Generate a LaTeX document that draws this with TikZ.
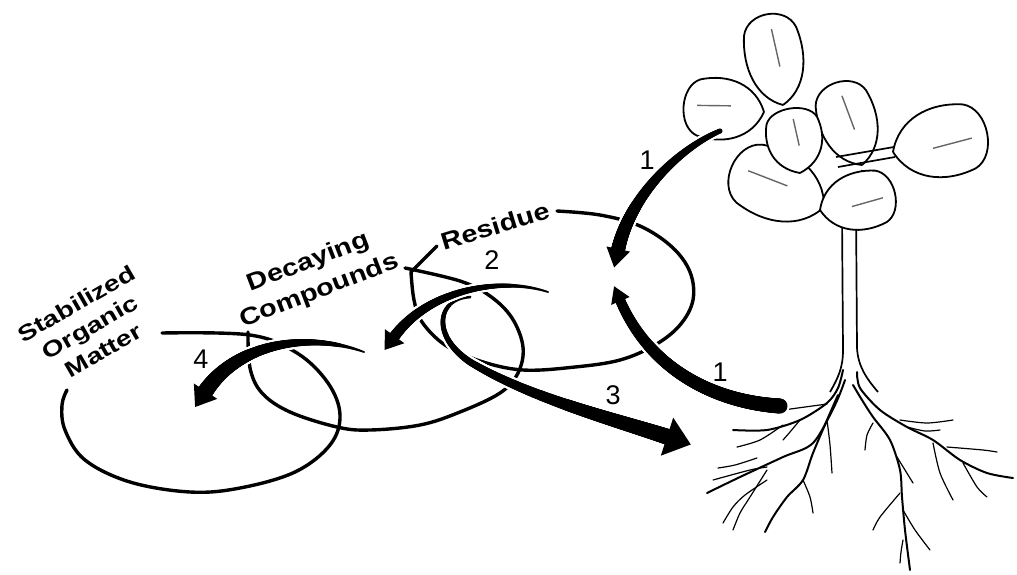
\documentclass[tikz,border=0pt]{standalone}
\usepackage{fontspec}
\usepackage{graphicx}
\setmainfont{Liberation Sans}
\usetikzlibrary{decorations.markings}
\tikzset{
  tapbody/.style n args={4}{postaction={decorate, decoration={markings,
      mark=between positions 0 and 1 step 0.7pt with {%
        \pgfmathsetmacro\tr{#1+(#2-#1)*\pgfkeysvalueof{/pgf/decoration/mark info/distance from start}/\pgfdecoratedpathlength+#3}%
        \fill[#4] (0pt,0pt) circle (\tr pt);}}}},
  taphead/.style n args={4}{postaction={decorate, decoration={markings,
      mark=at position 0.9999 with {%
        \pgfmathsetmacro\hwx{#1+#3}\pgfmathsetmacro\hlx{#2+1.8*#3}\pgfmathsetmacro\hbx{-1-#3}%
        \fill[#4] (\hbx pt,\hwx pt) -- (\hlx pt,0pt) -- (\hbx pt,-\hwx pt) -- cycle;}}}},
  lbl/.style={font=\bfseries\fontsize{24}{25}\selectfont, inner sep=0pt, align=center},
  num/.style={font=\fontsize{27}{30}\selectfont, inner sep=0pt},
  loopline/.style={line width=3.4pt, line cap=round, line join=round},
  leafline/.style={line width=1.8pt, fill=white, line join=round},
  ribline/.style={line width=1.4pt, black!60},
  rootmain/.style={line width=2pt, line cap=round},
  rootthin/.style={line width=1.2pt, line cap=round},
  stemline/.style={line width=1.7pt},
}
\newcommand\wide[1]{\scalebox{1.2}[1]{#1}}
\newcommand\wider[1]{\scalebox{1.28}[1]{#1}}
\newcommand\tarrow[5]{%
  \path[tapbody={#1}{#2}{2.2}{white},taphead={#3}{#4}{2.2}{white}] #5;
  \path[tapbody={#1}{#2}{0}{black},taphead={#3}{#4}{0}{black}] #5;}
\newcommand\leafshape[5]{%
  \begin{scope}[shift={(#1,#2)}, rotate=#4]
    \draw[leafline] (0,0) .. controls ({0.12*#3},{0.42*#5}) and ({0.45*#3},{0.56*#5}) .. ({0.78*#3},{0.44*#5})
      .. controls ({1.02*#3},{0.32*#5}) and ({1.02*#3},{-0.32*#5}) .. ({0.78*#3},{-0.44*#5})
      .. controls ({0.45*#3},{-0.56*#5}) and ({0.12*#3},{-0.42*#5}) .. (0,0);
    \draw[ribline] ({0.4*#3},{0.06*#5}) -- ({0.8*#3},{0.03*#5});
  \end{scope}}
\begin{document}
\begin{tikzpicture}[x=1pt,y=-1pt]
\useasboundingbox (0,0) rectangle (1017,574);
\fill[white] (0,0) rectangle (1017,574);

% ---- labels ----
\node[lbl, rotate=17] (res) at (495,226) {\wide{Residue}};
\node[lbl, rotate=21, font=\bfseries\fontsize{24}{31}\selectfont] (dec) at (314,277) {\wide{Decaying}\\\wide{Compounds}};
\node[lbl, rotate=30, font=\bfseries\fontsize{22}{27}\selectfont] (stab) at (90,327) {\wider{Stabilized}\\\wider{Organic}\\\wider{Matter}};

\node[num] (n1a) at (647,160) {1};
\node[num] (n1b) at (720,372) {1};
\node[num] (n2) at (492,260) {2};
\node[num] (n3) at (613,395) {3};
\node[num] (n4) at (201,359) {4};

% ---- loops ----
\draw[loopline] plot[smooth, tension=0.6] coordinates {(557,211) (600,215) (640,226) (672,247) (690,272) (693,300) (680,325) (655,345) (620,360) (575,367) (523,370) (480,361) (445,345) (422,322) (414,300) (411,272)} -- (437,246);
\draw[loopline] plot[smooth, tension=0.6] coordinates {(405,268) (460,281) (490,296) (512,318) (523,347) (518,373) (500,393) (460,412) (420,425) (370,430) (337,427) (290,412) (262,393) (250,368) (248,332)};
\draw[loopline] plot[smooth, tension=0.6] coordinates {(162,333) (250,335) (297,353) (328,383) (340,415) (330,445) (295,472) (240,488) (190,492) (130,482) (85,460) (65,430) (62,405) (67,390)};

% ---- plant ----
\draw[stemline] (842,215) -- (843,350) .. controls (843,368) and (838,378) .. (830,392);
\draw[stemline] (856,208) -- (857,348) .. controls (858,366) and (866,378) .. (878,392);
\draw[stemline] (843,222) -- (817,198);
\draw[stemline] (850,212) -- (862,170);
\leafshape{783}{105}{96}{100}{60}
\leafshape{764}{112}{84}{176}{64}
\leafshape{862}{165}{90}{107.6}{60}
\leafshape{893}{152}{100}{11.6}{74}
\draw[stemline] (836,157) -- (894,147);
\draw[stemline] (838,167) -- (895,157);
\leafshape{824}{207}{105}{155.9}{72}
\leafshape{820}{210}{80}{12.6}{60}
\leafshape{800}{173}{68}{99}{58}

\draw[rootmain] plot[smooth] coordinates {(843,370) (838,388) (827,403) (800,420) (767,430) (733,430)};
\draw[rootmain] plot[smooth] coordinates {(845,380) (835,405) (813,443) (783,457) (740,477) (707,493)};
\draw[rootmain] plot[smooth] coordinates {(838,395) (827,420) (813,453) (803,480) (787,497) (773,517) (765,532)};
\draw[rootthin] plot[smooth] coordinates {(783,425) (760,440) (737,447)};
\draw[rootthin] plot[smooth] coordinates {(800,420) (790,432) (783,440)};
\draw[rootthin] plot[smooth] coordinates {(767,467) (750,470) (713,480)};
\draw[rootthin] plot[smooth] coordinates {(767,470) (750,497) (740,513) (733,530)};
\draw[rootthin] plot[smooth] coordinates {(767,480) (745,495) (733,507) (723,523)};
\draw[rootthin] plot[smooth] coordinates {(803,480) (810,497) (813,513)};
\draw[rootthin] plot[smooth] coordinates {(827,420) (830,445) (832,473)};
\draw[rootthin] plot[smooth] coordinates {(783,410) (805,407) (827,404)};
\draw[rootthin] plot[smooth] coordinates {(757,458) (735,465) (718,468)};
\draw[rootmain] plot[smooth] coordinates {(857,372) (860,388) (880,410) (907,427) (933,440) (960,460) (987,473) (1013,478)};
\draw[rootmain] plot[smooth] coordinates {(853,385) (862,400) (873,417) (890,440) (900,470) (902,497) (905,530) (910,570)};
\draw[rootthin] plot[smooth] coordinates {(900,420) (927,423) (953,420)};
\draw[rootthin] plot[smooth] coordinates {(933,443) (940,473) (953,500)};
\draw[rootthin] plot[smooth] coordinates {(947,447) (983,450) (997,452)};
\draw[rootthin] plot[smooth] coordinates {(963,463) (977,487) (987,497)};
\draw[rootthin] plot[smooth] coordinates {(873,423) (867,435) (865,450)};
\draw[rootthin] plot[smooth] coordinates {(897,457) (905,470) (913,483)};
\draw[rootthin] plot[smooth] coordinates {(900,493) (880,517) (873,530)};
\draw[rootthin] plot[smooth] coordinates {(903,510) (915,530) (930,550)};
\draw[rootthin] plot[smooth] coordinates {(903,540) (901,552) (900,563)};
\draw[rootthin] plot[smooth] coordinates {(907,427) (925,431) (940,430)};

% ---- thick arrows ----
\coordinate (a3s) at (470,297);
\coordinate (a3m) at (470,362);
\coordinate (a3e) at (668,437);
\tarrow{1.5}{8}{20}{24}{(a3s) .. controls (438,298) and (430,335) .. (a3m) .. controls (530,398) and (610,418) .. (a3e)}
\coordinate (a2s) at (548,292);
\coordinate (a2e) at (394,337);
\tarrow{1}{5.5}{12}{16}{(a2s) .. controls (500,276) and (428,290) .. (a2e)}
\coordinate (a4s) at (364,352);
\coordinate (a4e) at (205,392);
\tarrow{1}{8}{14}{18}{(a4s) .. controls (310,332) and (238,342) .. (a4e)}
\coordinate (a1s) at (720,131);
\coordinate (a1e) at (618,250);
\tarrow{2.5}{7}{12}{18}{(a1s) .. controls (680,148) and (630,195) .. (a1e)}
\coordinate (b1s) at (780,406);
\coordinate (b1e) at (620,300);
\tarrow{7.5}{5}{10}{15}{(b1s) .. controls (715,402) and (650,370) .. (b1e)}
\end{tikzpicture}
\end{document}
